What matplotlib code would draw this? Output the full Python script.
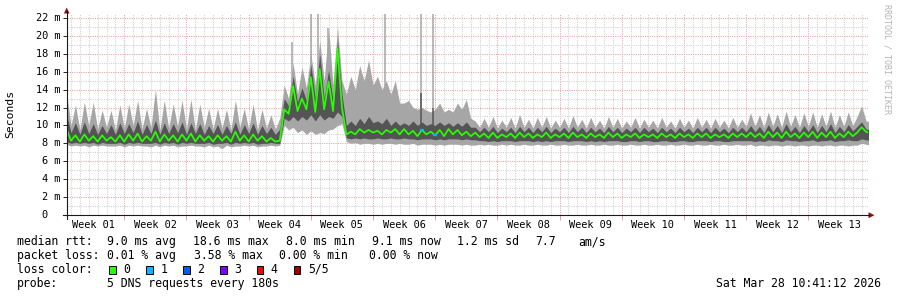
import numpy as np
import matplotlib
matplotlib.use("Agg")
import matplotlib.pyplot as plt
from matplotlib import transforms
from matplotlib.patches import Rectangle, Polygon

W, H = 897, 297
MONO = "DejaVu Sans Mono"

# smokeping smoke, ms, one sample every half day starting at day 0.5 of week 01
rtt_max = [
    # weeks 01-04 (first half)
    13.6, 10.0, 12.3, 9.5, 12.6, 10.0, 12.6, 9.6, 11.7, 9.8,
    11.7, 9.5, 12.3, 9.7, 12.4, 10.0, 12.8, 9.6, 11.9, 9.8,
    14.0, 9.5, 12.8, 9.7, 12.4, 9.9, 12.8, 9.6, 12.9, 9.5,
    12.4, 9.8, 11.9, 9.6, 11.9, 9.7, 11.8, 9.5, 12.8, 9.8,
    11.9, 9.6, 12.4, 9.5, 11.8, 9.7, 11.2, 9.6, 10.8,
    # week 04 bump
    14.5, 13.0, 17.0, 13.5, 16.5, 14.2, 18.0, 14.5, 19.5, 15.0, 20.9, 14.5, 21.0, 15.0,
    # weeks 05-07
    13.5, 15.5, 14.0, 16.7, 15.0, 17.3, 14.5, 15.5, 14.0, 15.0,
    13.5, 15.0, 12.5, 12.5, 12.8, 12.0, 11.8, 12.0, 11.7, 11.5,
    11.8, 12.5, 11.5, 11.8, 11.5, 12.5, 11.8, 12.9, 10.8, 10.5,
    # weeks 07-11
    9.8, 10.8, 9.8, 11.0, 9.7, 10.6, 9.8, 10.9, 9.7, 11.2,
    9.8, 10.7, 9.7, 10.9, 9.8, 11.0, 9.7, 10.6, 9.8, 10.8,
    9.7, 11.1, 9.8, 10.7, 9.7, 10.9, 9.8, 10.6, 9.7, 11.0,
    9.8, 10.8, 9.7, 10.5, 9.8, 10.9, 9.7, 10.7, 9.8, 10.6,
    9.7, 10.9, 9.8, 10.5, 9.7, 10.8, 9.8, 10.6, 9.7, 10.9,
    9.8, 10.7, 9.7, 10.8, 9.8, 10.6, 9.7, 10.9, 9.8, 10.7,
    # weeks 12-13
    9.9, 11.4, 9.9, 11.2, 9.8, 11.5, 9.9, 11.3, 9.8, 11.6,
    9.9, 11.2, 9.8, 11.4, 9.9, 11.5, 9.8, 11.3, 9.9, 11.6,
    9.8, 11.2, 9.9, 11.5, 10.0, 11.0, 12.2, 10.5, 10.4,
]
rtt_hi = [
    11.2, 9.2, 10.3, 9.0, 10.4, 9.1, 10.2, 9.0, 10.0, 9.1,
    10.1, 9.0, 10.3, 9.1, 10.2, 9.2, 10.5, 9.0, 10.1, 9.1,
    10.6, 9.0, 10.3, 9.1, 10.2, 9.2, 10.4, 9.0, 10.3, 9.1,
    10.2, 9.0, 10.0, 9.1, 10.1, 9.0, 10.0, 9.1, 10.4, 9.0,
    10.1, 9.1, 10.3, 9.0, 10.0, 9.1, 9.8, 9.0, 9.6,
    13.0, 12.2, 15.5, 12.6, 14.2, 12.8, 16.8, 13.0, 18.0, 13.0, 16.2, 12.8, 19.5, 13.5,
    10.0, 10.5, 10.0, 10.8, 10.2, 11.0, 10.3, 10.5, 10.2, 10.8,
    10.0, 10.5, 10.0, 10.3, 10.0, 10.5, 10.0, 10.4, 10.0, 10.2,
    10.0, 10.4, 10.0, 10.3, 9.9, 10.3, 9.9, 10.4, 9.8, 9.8,
    9.3, 9.8, 9.3, 9.9, 9.2, 9.7, 9.3, 9.8, 9.2, 9.9,
    9.3, 9.8, 9.2, 9.8, 9.3, 9.9, 9.2, 9.7, 9.3, 9.8,
    9.2, 9.9, 9.3, 9.8, 9.2, 9.8, 9.3, 9.7, 9.2, 9.9,
    9.3, 9.8, 9.2, 9.7, 9.3, 9.8, 9.2, 9.8, 9.3, 9.7,
    9.2, 9.8, 9.3, 9.7, 9.2, 9.8, 9.3, 9.7, 9.2, 9.8,
    9.3, 9.8, 9.2, 9.8, 9.3, 9.7, 9.2, 9.8, 9.3, 9.8,
    9.3, 10.0, 9.3, 9.9, 9.2, 10.1, 9.3, 10.0, 9.2, 10.2,
    9.3, 9.9, 9.2, 10.0, 9.3, 10.1, 9.2, 10.0, 9.3, 10.2,
    9.2, 9.9, 9.3, 10.1, 9.4, 9.9, 10.4, 9.6, 9.5,
]
rtt_median = [
    9.6, 8.3, 8.9, 8.2, 9.0, 8.3, 8.8, 8.2, 8.9, 8.3,
    8.7, 8.2, 8.9, 8.2, 9.0, 8.3, 9.1, 8.2, 8.8, 8.3,
    9.3, 8.2, 9.0, 8.3, 8.9, 8.2, 9.0, 8.3, 9.1, 8.2,
    8.9, 8.3, 8.8, 8.2, 8.9, 8.3, 8.8, 8.2, 9.3, 8.3,
    8.9, 8.2, 9.0, 8.3, 8.8, 8.2, 8.6, 8.2, 8.3,
    11.8, 11.3, 14.4, 11.6, 13.0, 11.8, 15.4, 11.5, 16.3, 11.8, 14.9, 11.6, 18.6, 12.0,
    9.0, 9.3, 9.0, 9.6, 9.2, 9.5, 9.2, 9.4, 9.0, 9.5,
    9.2, 9.6, 9.0, 9.6, 9.0, 9.4, 8.8, 9.5, 9.0, 9.3,
    8.9, 9.5, 8.8, 9.6, 9.0, 9.5, 8.9, 9.3, 8.8, 9.2,
    8.7, 9.1, 8.6, 9.2, 8.6, 9.0, 8.7, 9.1, 8.6, 9.2,
    8.7, 9.1, 8.6, 9.0, 8.7, 9.2, 8.6, 9.0, 8.7, 9.1,
    8.6, 9.2, 8.7, 9.0, 8.6, 9.1, 8.7, 9.0, 8.6, 9.2,
    8.7, 9.1, 8.6, 9.0, 8.7, 9.1, 8.6, 9.0, 8.7, 9.0,
    8.6, 9.1, 8.7, 9.0, 8.6, 9.1, 8.7, 9.0, 8.6, 9.1,
    8.7, 9.1, 8.6, 9.0, 8.7, 9.0, 8.6, 9.1, 8.7, 9.1,
    8.7, 9.2, 8.7, 9.1, 8.6, 9.3, 8.7, 9.2, 8.6, 9.3,
    8.7, 9.1, 8.6, 9.2, 8.7, 9.3, 8.6, 9.2, 8.7, 9.3,
    8.6, 9.1, 8.7, 9.3, 8.8, 9.2, 9.8, 9.3, 9.1,
]
rtt_lo = [
    8.2, 8.0, 8.1, 8.0, 8.1, 8.0, 8.1, 7.9, 8.1, 8.0,
    8.0, 8.0, 8.1, 7.9, 8.1, 8.0, 8.1, 8.0, 8.0, 8.0,
    8.1, 7.9, 8.1, 8.0, 8.1, 7.9, 8.1, 8.0, 8.1, 8.0,
    8.0, 8.0, 8.1, 7.9, 8.0, 8.0, 8.1, 7.9, 8.1, 8.0,
    8.1, 8.0, 8.1, 7.9, 8.0, 8.0, 8.1, 8.0, 8.0,
    10.8, 10.5, 11.0, 10.5, 11.0, 10.6, 11.2, 10.5, 11.2, 10.6, 11.0, 10.8, 11.5, 11.0,
    8.6, 8.5, 8.6, 8.5, 8.6, 8.5, 8.5, 8.6, 8.5, 8.5,
    8.6, 8.5, 8.5, 8.6, 8.5, 8.5, 8.4, 8.5, 8.5, 8.5,
    8.4, 8.5, 8.4, 8.5, 8.5, 8.5, 8.4, 8.5, 8.4, 8.4,
    8.3, 8.3, 8.2, 8.3, 8.2, 8.3, 8.3, 8.3, 8.2, 8.3,
    8.3, 8.3, 8.2, 8.3, 8.2, 8.3, 8.2, 8.3, 8.3, 8.3,
    8.2, 8.3, 8.3, 8.3, 8.2, 8.3, 8.2, 8.3, 8.2, 8.3,
    8.3, 8.3, 8.2, 8.2, 8.3, 8.3, 8.2, 8.3, 8.3, 8.2,
    8.2, 8.3, 8.3, 8.2, 8.2, 8.3, 8.3, 8.2, 8.2, 8.3,
    8.3, 8.3, 8.2, 8.3, 8.3, 8.2, 8.2, 8.3, 8.3, 8.3,
    8.3, 8.3, 8.2, 8.3, 8.2, 8.4, 8.3, 8.3, 8.2, 8.4,
    8.3, 8.3, 8.2, 8.3, 8.3, 8.4, 8.2, 8.3, 8.3, 8.4,
    8.2, 8.3, 8.3, 8.4, 8.3, 8.3, 8.5, 8.4, 8.3,
]
rtt_min = [
    7.9, 7.7, 7.8, 7.7, 7.8, 7.6, 7.8, 7.7, 7.8, 7.7,
    7.7, 7.7, 7.8, 7.6, 7.8, 7.7, 7.8, 7.7, 7.7, 7.6,
    7.8, 7.6, 7.8, 7.7, 7.8, 7.6, 7.7, 7.7, 7.8, 7.7,
    7.7, 7.6, 7.8, 7.6, 7.7, 7.4, 7.8, 7.6, 7.7, 7.7,
    7.8, 7.7, 7.8, 7.6, 7.7, 7.7, 7.8, 7.7, 7.8,
    10.0, 9.5, 9.8, 9.2, 9.5, 9.0, 9.4, 9.0, 9.2, 9.1, 9.5, 9.6, 10.0, 10.2,
    8.2, 8.0, 8.1, 7.9, 8.0, 8.0, 7.9, 8.0, 7.9, 8.0,
    8.0, 7.9, 8.0, 7.9, 7.9, 8.0, 7.8, 7.9, 7.9, 7.9,
    7.8, 7.9, 7.8, 7.9, 7.9, 7.9, 7.8, 7.9, 7.8, 7.8,
    7.9, 7.8, 7.9, 7.8, 7.8, 7.9, 7.8, 7.9, 7.8, 7.8,
    7.9, 7.8, 7.8, 7.9, 7.8, 7.8, 7.9, 7.8, 7.8, 7.9,
    7.8, 7.8, 7.9, 7.8, 7.8, 7.9, 7.8, 7.8, 7.9, 7.8,
    7.8, 7.9, 7.8, 7.8, 7.9, 7.8, 7.8, 7.9, 7.8, 7.8,
    7.9, 7.8, 7.8, 7.9, 7.8, 7.8, 7.9, 7.8, 7.8, 7.9,
    7.8, 7.8, 7.9, 7.8, 7.8, 7.9, 7.8, 7.8, 7.9, 7.8,
    7.8, 7.9, 7.7, 7.8, 7.8, 7.7, 7.8, 7.8, 7.7, 7.8,
    7.8, 7.7, 7.8, 7.8, 7.7, 7.8, 7.8, 7.7, 7.8, 7.8,
    7.7, 7.8, 7.8, 7.7, 7.8, 7.8, 8.0, 7.9, 7.8,
]

# single tall outliers (day, ms)
spike_days = [25.9, 28.0, 28.8, 29.9, 36.35, 40.4, 41.75]
spike_tops = [19.3, 22.5, 22.5, 20.9, 22.5, 22.5, 22.5]
dark_spike_days = [40.4, 41.75]
dark_spike_tops = [13.6, 12.0]

# samples where one of five pings was lost
loss_idx = [80, 83]
loss_count = [1, 1]

loss_colors = ["#26ff00", "#00b8ff", "#0059ff", "#7e00ff", "#ff0000", "#a10000"]
loss_labels = ["0", "1", "2", "3", "4", "5/5"]

week_labels = ["Week %02d" % i for i in range(1, 14)]
y_ticks = list(range(0, 23, 2))

median_stats = [("median rtt:", 16.7), ("9.0 ms avg", 107.3), ("18.6 ms max", 193.3),
                ("8.0 ms min", 286), ("9.1 ms now", 372), ("1.2 ms sd", 457),
                ("7.7", 535), ("am/s", 578)]
loss_stats = [("packet loss:", 16.7), ("0.01 % avg", 107.3), ("3.58 % max", 194),
              ("0.00 % min", 279), ("0.00 % now", 369)]

LIGHT = "#a6a6a6"
DARK = "#545454"
RED_GRID = "#e6a3a3"
GRAY_GRID = "#cfcfcf"

days = 0.5 + 0.5 * np.arange(len(rtt_median))

fig = plt.figure(figsize=(W / 100, H / 100), dpi=100)
fig.patch.set_facecolor("white")

# plot area: x 67..868 px, y 13.5..215 px
ax = fig.add_axes([67 / W, (H - 215) / H, 801 / W, 201.5 / H])
ax.set_xlim(0.55, 90.72)
ax.set_ylim(0, 22.5)
for s in ax.spines.values():
    s.set_visible(False)

dot = (0, (1, 1.2))
for d in range(1, 91):
    ax.axvline(d, color=RED_GRID if d % 7 == 0 else GRAY_GRID, lw=0.75, ls=dot, zorder=1)
for v in range(1, 23):
    ax.axhline(v, color=RED_GRID if v % 2 == 0 else GRAY_GRID, lw=0.75, ls=dot, zorder=1)

ax.fill_between(days, rtt_min, rtt_max, color=LIGHT, lw=0, zorder=2)
ax.vlines(spike_days, 12, spike_tops, color=LIGHT, lw=1.1, zorder=2)
ax.fill_between(days, rtt_lo, rtt_hi, color=DARK, lw=0, zorder=3)
ax.vlines(dark_spike_days, 10, dark_spike_tops, color=DARK, lw=1.1, zorder=3)
ax.plot(days, rtt_median, color=loss_colors[0], lw=1.25, zorder=4)
for i, n in zip(loss_idx, loss_count):
    ax.plot([days[i] - 0.2, days[i] + 0.2], [rtt_median[i]] * 2,
            color=loss_colors[n], lw=1.6, solid_capstyle="butt", zorder=5)

ax.set_xticks(range(7, 91, 7))
ax.set_yticks(y_ticks)
ax.tick_params(axis="x", length=3.5, width=0.7, color=RED_GRID, labelbottom=False)
ax.tick_params(axis="y", length=3, width=0.7, color="#222222", labelleft=False)

# tick labels
ylab_tr = transforms.blended_transform_factory(fig.transFigure, ax.transData)
for v in y_ticks:
    if v == 0:
        ax.text(47.5 / W, v, "0", transform=ylab_tr, ha="right", va="center",
                family=MONO, fontsize=7.4)
    else:
        ax.text(60.5 / W, v, "%d m" % v, transform=ylab_tr, ha="right", va="center",
                family=MONO, fontsize=7.4)
xlab_tr = transforms.blended_transform_factory(ax.transData, fig.transFigure)
for i, lab in enumerate(week_labels):
    ax.text(7 * i + 3.5, 1 - 224.5 / H, lab, transform=xlab_tr, ha="center", va="center",
            family=MONO, fontsize=7.4)

# overlay in pixel coordinates for axes lines, arrows and legend
ov = fig.add_axes([0, 0, 1, 1], zorder=5)
ov.set_xlim(0, W)
ov.set_ylim(H, 0)
ov.axis("off")
ov.patch.set_alpha(0)

ov.plot([66.7, 66.7], [11, 219], color="#1a1a1a", lw=0.8)
ov.plot([63, 869], [215.2, 215.2], color="#1a1a1a", lw=0.8)
ov.add_patch(Polygon([(63.9, 13.5), (69.5, 13.5), (66.7, 7.5)], closed=True, color="#8b1010", lw=0))
ov.add_patch(Polygon([(868.5, 212.2), (868.5, 218.2), (874.5, 215.2)], closed=True, color="#8b1010", lw=0))

ov.text(10.5, 114, "Seconds", rotation=90, ha="center", va="center", family=MONO, fontsize=8.2)
ov.text(887, 4, "RRDTOOL / TOBI OETIKER", rotation=-90, ha="center", va="top",
        family=MONO, fontsize=6.0, color="#b4b4b4")

LEG = 8.3
for txt, x in median_stats:
    ov.text(x, 241.7, txt, ha="left", va="center", family=MONO, fontsize=LEG)
for txt, x in loss_stats:
    ov.text(x, 255.3, txt, ha="left", va="center", family=MONO, fontsize=LEG)
ov.text(16.7, 269.3, "loss color:", ha="left", va="center", family=MONO, fontsize=LEG)
for i, (c, lab) in enumerate(zip(loss_colors, loss_labels)):
    x0 = 109 + 36.9 * i
    ov.add_patch(Rectangle((x0, 265.5), 6.8, 8, facecolor=c, edgecolor="black", lw=0.7))
    ov.text(x0 + 14.3, 269.3, lab, ha="left", va="center", family=MONO, fontsize=LEG)
ov.text(16.7, 283.3, "probe:", ha="left", va="center", family=MONO, fontsize=LEG)
ov.text(107.3, 283.3, "5 DNS requests every 180s", ha="left", va="center", family=MONO, fontsize=LEG)
ov.text(881, 283.3, "Sat Mar 28 10:41:12 2026", ha="right", va="center", family=MONO, fontsize=LEG)

fig.savefig("out.png", dpi=100, facecolor="white")
